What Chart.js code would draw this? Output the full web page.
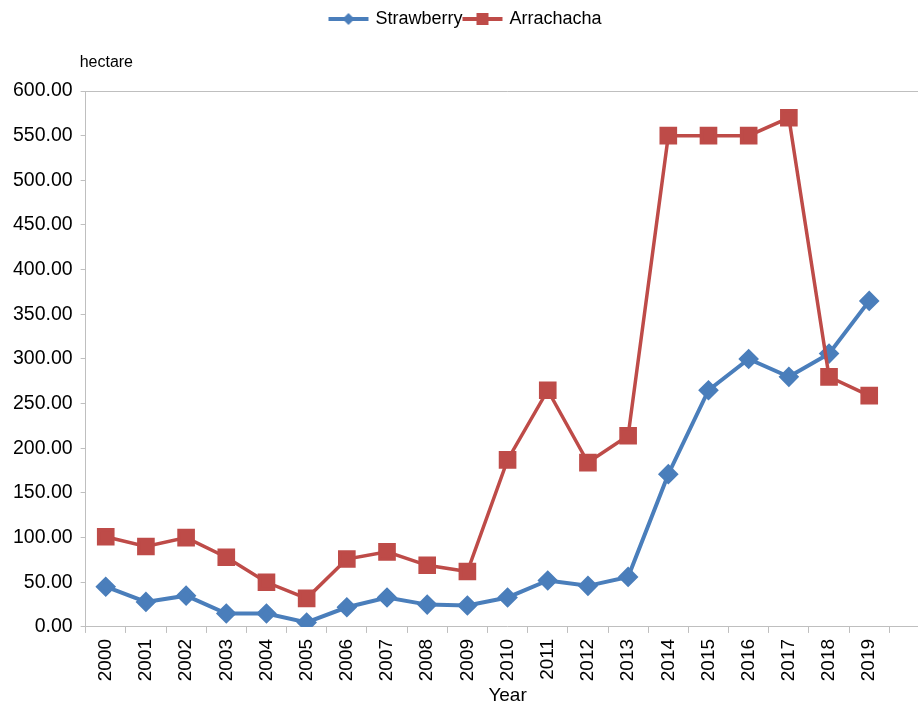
<!DOCTYPE html>
<html>
<head>
<meta charset="utf-8">
<script src="https://cdn.jsdelivr.net/npm/chart.js@4/dist/chart.umd.min.js"></script>
<style>
  html, body { margin: 0; padding: 0; background: #fff; overflow: hidden; }
  #wrap { width: 918px; height: 702px; overflow: hidden; }
</style>
</head>
<body>
<div id="wrap"><canvas id="chart" width="943" height="702"></canvas></div>
<script>
// years on the x axis
const years = ["2000", "2001", "2002", "2003", "2004", "2005", "2006", "2007", "2008", "2009",
  "2010", "2011", "2012", "2013", "2014", "2015", "2016", "2017", "2018", "2019"];

// planted area, hectare
const strawberry = [45, 28, 35, 15, 15, 5, 22, 33, 25, 24, 33, 52, 46, 56, 171, 265, 300, 280, 306, 365];
const arrachacha = [101, 90, 100, 78, 50, 32, 76, 84, 69, 62, 187, 265, 184, 214, 550, 550, 550, 570, 280, 259];

const yMin = 0;
const yMax = 600;
const yStep = 50;

const BLUE = "#4a7ebb";
const RED = "#be4b48";
const FONT = "'Liberation Sans', Arial, sans-serif";

// little line + marker icons for the legend
function legendIcon(color, shape) {
  const c = document.createElement("canvas");
  c.width = 44;
  c.height = 16;
  const g = c.getContext("2d");
  g.strokeStyle = color;
  g.lineWidth = 4;
  g.beginPath();
  g.moveTo(2, 8);
  g.lineTo(42, 8);
  g.stroke();
  g.fillStyle = color;
  g.beginPath();
  if (shape === "diamond") {
    g.moveTo(22, 2); g.lineTo(28, 8); g.lineTo(22, 14); g.lineTo(16, 8);
  } else {
    g.rect(16, 2, 12, 12);
  }
  g.closePath();
  g.fill();
  return c;
}
const icons = [legendIcon(BLUE, "diamond"), legendIcon(RED, "square")];

// legend needs room under it for the unit label, and sits a bit left
const legendTweak = {
  id: "legendTweak",
  afterInit(chart) {
    const legend = chart.legend;
    const fit = legend.fit;
    legend.fit = function () {
      fit.call(this);
      this.height += 53;
    };
    const draw = legend.draw;
    legend.draw = function (area) {
      const c = this.ctx;
      c.save();
      c.translate(-8, 0);
      draw.call(this, area);
      c.restore();
    };
  }
};

// "hectare" above the value axis
const unitLabel = {
  id: "unitLabel",
  afterDraw(chart) {
    const ctx = chart.ctx;
    const area = chart.chartArea;
    ctx.save();
    ctx.font = "16px " + FONT;
    ctx.fillStyle = "#000";
    ctx.textAlign = "left";
    ctx.textBaseline = "middle";
    ctx.fillText("hectare", area.left - 6, area.top - 28);
    ctx.restore();
  }
};

const ctx = document.getElementById("chart");

new Chart(ctx, {
  type: "line",
  data: {
    labels: [...years, ""],
    datasets: [
      {
        label: "Strawberry",
        data: strawberry,
        borderColor: BLUE,
        backgroundColor: BLUE,
        pointBackgroundColor: BLUE,
        pointBorderColor: BLUE,
        pointStyle: "rectRot",
        pointRadius: 7.5,
        pointHoverRadius: 7.5,
        borderWidth: 4,
        tension: 0,
        order: 1
      },
      {
        label: "Arrachacha",
        data: arrachacha,
        borderColor: RED,
        backgroundColor: RED,
        pointBackgroundColor: RED,
        pointBorderColor: RED,
        pointStyle: "rect",
        pointRadius: 10,
        pointHoverRadius: 10,
        borderWidth: 3.5,
        tension: 0,
        order: 0
      }
    ]
  },
  options: {
    responsive: false,
    animation: false,
    layout: { padding: { left: 5, top: 8, right: 0, bottom: -5 } },
    plugins: {
      tooltip: { enabled: false },
      legend: {
        position: "top",
        labels: {
          usePointStyle: true,
          pointStyleWidth: 36,
          padding: 2,
          color: "#000",
          font: { family: FONT, size: 18 },
          sort: (a, b) => a.datasetIndex - b.datasetIndex,
          generateLabels(chart) {
            const items = Chart.defaults.plugins.legend.labels.generateLabels(chart);
            items.forEach((it) => { it.pointStyle = icons[it.datasetIndex]; });
            return items;
          }
        }
      }
    },
    scales: {
      x: {
        type: "category",
        offset: true,
        grid: {
          offset: true,
          drawOnChartArea: false,
          drawTicks: true,
          tickLength: 6,
          tickColor: "#bfbfbf"
        },
        border: { color: "#bfbfbf", width: 1 },
        ticks: {
          autoSkip: false,
          maxRotation: 90,
          minRotation: 90,
          padding: 6,
          color: "#000",
          font: { family: FONT, size: 19 }
        },
        title: {
          display: true,
          text: "Year",
          color: "#000",
          padding: { top: -3, bottom: 0 },
          font: { family: FONT, size: 19 }
        }
      },
      y: {
        min: yMin,
        max: yMax,
        grid: {
          color: (c) => (c.tick && c.tick.value === yMax ? "#bfbfbf" : "rgba(0,0,0,0)"),
          drawTicks: true,
          tickLength: 5,
          tickColor: "#bfbfbf"
        },
        border: { color: "#bfbfbf", width: 1 },
        ticks: {
          stepSize: yStep,
          padding: 8,
          color: "#000",
          font: { family: FONT, size: 19.5 },
          callback: (v) => Number(v).toFixed(2)
        }
      }
    }
  },
  plugins: [legendTweak, unitLabel]
});
</script>
</body>
</html>
